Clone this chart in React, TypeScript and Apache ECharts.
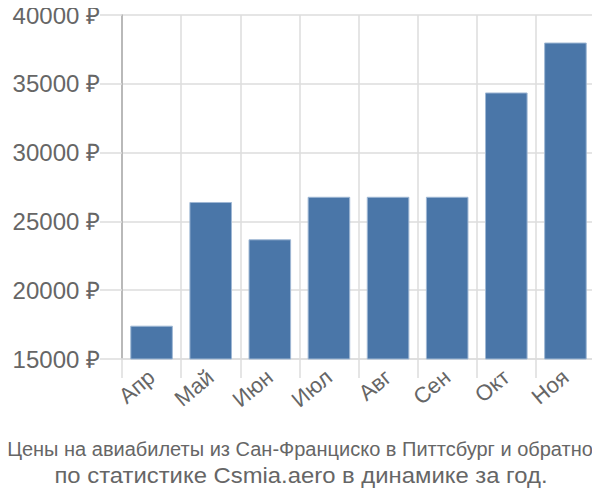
import React, { useEffect, useRef } from "react";
import * as echarts from "echarts";

const months = ["Апр", "Май", "Июн", "Июл", "Авг", "Сен", "Окт", "Ноя"];
const prices = [17420, 26410, 23700, 26790, 26790, 26790, 34370, 38000];
const yTicks = { min: 15000, max: 40000, step: 5000 };
const titleLines = [
  "Цены на авиабилеты из Сан-Франциско в Питтсбург и обратно",
  "по статистике Csmia.aero в динамике за год.",
];
const FONT = "'Liberation Sans', Arial, sans-serif";
const TITLE_FONT = `22px ${FONT}`;

function measure(text: string, font: string): number {
  const ctx = document.createElement("canvas").getContext("2d");
  if (!ctx) return 0;
  ctx.font = font;
  return ctx.measureText(text).width;
}

export default function App() {
  const ref = useRef<HTMLDivElement>(null);
  useEffect(() => {
    const chart = echarts.init(ref.current!, null, { renderer: "svg" });
    const w2 = measure(titleLines[1], TITLE_FONT) || 493;
    chart.setOption({
      animation: false,
      textStyle: { fontFamily: FONT },
      grid: { left: 122, right: 5, top: 15, bottom: 141, containLabel: false },
      graphic: [
        {
          type: "text",
          x: 300,
          y: 449,
          style: {
            text: titleLines[0],
            font: `20px ${FONT}`,
            fill: "#666",
            textAlign: "center",
            textVerticalAlign: "middle",
          },
        },
        {
          type: "text",
          x: 301,
          y: 475,
          scaleX: 493 / w2,
          style: {
            text: titleLines[1],
            font: TITLE_FONT,
            fill: "#666",
            textAlign: "center",
            textVerticalAlign: "middle",
          },
        },
      ],
      xAxis: {
        type: "category",
        data: months,
        axisLine: { show: true, lineStyle: { color: "#ddd", width: 1.5 } },
        axisTick: { show: true, length: 19, lineStyle: { color: "#ddd", width: 1.5 } },
        splitLine: { show: true, lineStyle: { color: "#ddd", width: 1.5 } },
        axisLabel: {
          rotate: 40,
          fontSize: 22,
          color: "#666",
          margin: 15,
          interval: 0,
        },
      },
      yAxis: {
        type: "value",
        min: yTicks.min,
        max: yTicks.max,
        interval: yTicks.step,
        axisLine: { show: true, lineStyle: { color: "#aaa", width: 1.5 } },
        axisTick: { show: true, length: 22, lineStyle: { color: "#ddd", width: 1.5 } },
        splitLine: { show: true, lineStyle: { color: "#ddd", width: 1.5 } },
        axisLabel: {
          fontSize: 24,
          color: "#666",
          margin: 22,
          formatter: (v: number) => `${v} ₽`,
        },
      },
      series: [
        {
          type: "bar",
          data: prices,
          barCategoryGap: "28%",
          itemStyle: { color: "#4a76a8", borderColor: "#9fb8d4", borderWidth: 1 },
        },
      ],
    });
    return () => chart.dispose();
  }, []);
  return <div ref={ref} style={{ width: 600, height: 500, margin: -8 }} />;
}
